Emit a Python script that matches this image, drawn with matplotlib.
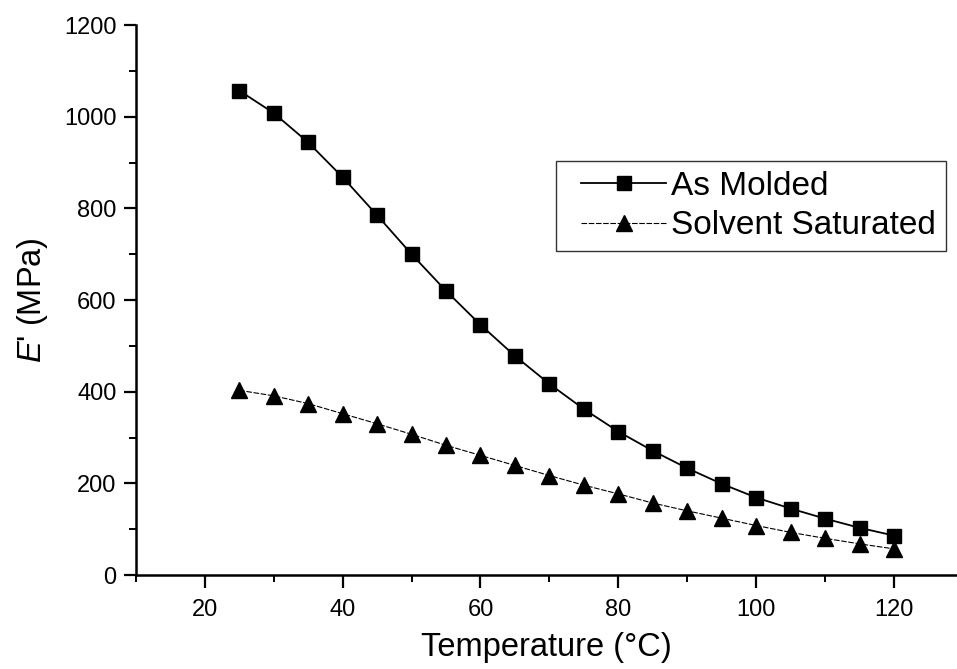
import numpy as np
import matplotlib
matplotlib.use('Agg')
import matplotlib.pyplot as plt
from matplotlib.ticker import MultipleLocator
from matplotlib.lines import Line2D
from matplotlib.legend_handler import HandlerLine2D

plt.rcParams['font.family'] = ['Liberation Sans', 'DejaVu Sans']
plt.rcParams['mathtext.fontset'] = 'custom'
plt.rcParams['mathtext.rm'] = 'Liberation Sans'
plt.rcParams['mathtext.it'] = 'Liberation Sans:italic'

temperature = [25, 30, 35, 40, 45, 50, 55, 60, 65, 70,
               75, 80, 85, 90, 95, 100, 105, 110, 115, 120]
as_molded = [1057, 1008, 944, 868, 785, 700, 620, 546, 478, 417,
             362, 313, 271, 233, 199, 169, 145, 123, 103, 86]
solvent_saturated = [403, 391, 374, 352, 330, 307, 283, 261, 239, 217,
                     196, 177, 157, 140, 124, 108, 93, 80, 68, 57]

fig = plt.figure(figsize=(9.57, 6.69), dpi=100)
ax = fig.add_axes([0.142, 0.1405, 0.857, 0.822])

ax.plot(temperature, as_molded, color='black', lw=1.3, marker='s',
        markersize=9.5, label='As Molded')
ax.plot(temperature, solvent_saturated, color='black', lw=0.8,
        linestyle=(0, (5, 1.5)), marker='^', markersize=11,
        label='Solvent Saturated')

ax.set_xlim(10, 129)
ax.set_ylim(0, 1200)
ax.xaxis.set_major_locator(MultipleLocator(20))
ax.xaxis.set_minor_locator(MultipleLocator(10))
ax.yaxis.set_major_locator(MultipleLocator(200))
ax.yaxis.set_minor_locator(MultipleLocator(100))

for side in ['top', 'right']:
    ax.spines[side].set_visible(False)
for side in ['left', 'bottom']:
    ax.spines[side].set_linewidth(1.8)

ax.tick_params(axis='both', which='major', direction='out', length=9,
               width=1.6, labelsize=17, pad=5)
ax.tick_params(axis='both', which='minor', direction='out', length=5,
               width=1.4)
ax.tick_params(axis='x', which='major', pad=8)

ax.set_xlabel('Temperature (°C)', fontsize=23.5, labelpad=8)
ax.set_ylabel("$E$' (MPa)", fontsize=23.5, labelpad=10)

leg = ax.legend(loc='upper right', bbox_to_anchor=(0.988, 0.753),
                fontsize=24, frameon=True, fancybox=False, numpoints=1,
                handlelength=3.0, handletextpad=0.15, labelspacing=0.25,
                borderpad=0.3, borderaxespad=0,
                handler_map={Line2D: HandlerLine2D(xpad=0.45)})
leg.get_frame().set_edgecolor('black')
leg.get_frame().set_linewidth(1.0)

fig.savefig('out.png', dpi=100)
